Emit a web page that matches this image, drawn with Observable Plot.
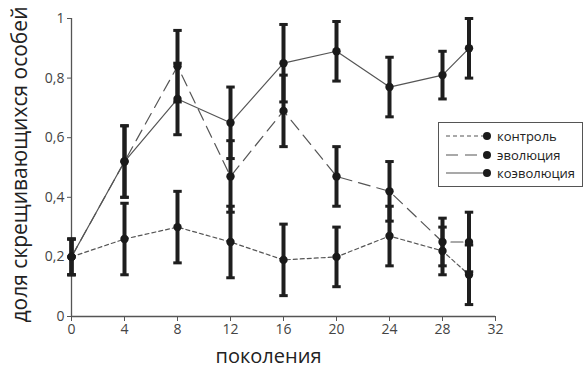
<!DOCTYPE html>
<html><head><meta charset="utf-8">
<script src="https://cdn.jsdelivr.net/npm/d3@7"></script>
<script src="https://cdn.jsdelivr.net/npm/@observablehq/plot@0.6"></script>
<style>
  body { margin:0; background:#fff; }
  #wrap { position:relative; width:584px; height:367px; font-family:"Open Sans", sans-serif; }
  #legend { position:absolute; left:438px; top:122px; width:145px; height:65px; border:1px solid #555; box-sizing:border-box; background:#fff; }
  #legend .row { position:absolute; left:6px; height:18px; display:flex; align-items:center; font-size:13px; color:#222; white-space:nowrap; }
  #legend svg { margin-right:4px; }
</style>
</head><body>
<div id="wrap"><div id="chart"></div><div id="legend"></div></div>
<script>
const generations = [0, 4, 8, 12, 16, 20, 24, 28, 30];
const control        = [0.20, 0.26, 0.30, 0.25, 0.19, 0.20, 0.27, 0.22, 0.14];
const controlErr     = [0.06, 0.12, 0.12, 0.12, 0.12, 0.10, 0.10, 0.08, 0.10];
const evolution      = [0.20, 0.52, 0.84, 0.47, 0.69, 0.47, 0.42, 0.25, 0.25];
const evolutionErr   = [0.06, 0.12, 0.12, 0.12, 0.12, 0.10, 0.10, 0.08, 0.10];
const coevolution    = [0.20, 0.52, 0.73, 0.65, 0.85, 0.89, 0.77, 0.81, 0.90];
const coevolutionErr = [0.06, 0.12, 0.12, 0.12, 0.13, 0.10, 0.10, 0.08, 0.10];
const seriesNames = ["контроль", "эволюция", "коэволюция"];
const xTicks = [0, 4, 8, 12, 16, 20, 24, 28, 32];
const yTicks = [0, 0.2, 0.4, 0.6, 0.8, 1];
const xLabel = "поколения";
const yLabel = "доля скрещивающихся особей";

const dashes = {"контроль": "4,3", "эволюция": "12,7", "коэволюция": null};
const valuesBy = [control, evolution, coevolution];
const errsBy = [controlErr, evolutionErr, coevolutionErr];
const rows = [];
seriesNames.forEach((s, si) => generations.forEach((g, i) =>
  rows.push({series: s, x: g, y: valuesBy[si][i], lo: valuesBy[si][i] - errsBy[si][i], hi: valuesBy[si][i] + errsBy[si][i]})));

const fmt = d => (d === 0 || d === 1) ? String(d) : d.toFixed(1).replace(".", ",");
const lineColor = "#555";
const barColor = "#1e1e1e";
const capW = 0.32;

const marks = [
  Plot.ruleX([0], {stroke: "#555", strokeWidth: 1.3}),
  Plot.ruleY([0], {stroke: "#555", strokeWidth: 1.3}),
  Plot.axisX({ticks: xTicks, tickSize: 5, tickPadding: 3, fontSize: 14, stroke: "#555", color: "#444", label: null}),
  Plot.axisY({ticks: yTicks, tickSize: 4, tickPadding: 3, fontSize: 14, tickFormat: fmt, stroke: "#555", color: "#444", label: null}),
  ...seriesNames.map(s => Plot.line(rows.filter(r => r.series === s), {x: "x", y: "y", stroke: lineColor, strokeWidth: 1.2, strokeDasharray: dashes[s]})),
  Plot.ruleX(rows, {x: "x", y1: "lo", y2: "hi", stroke: barColor, strokeWidth: 4}),
  Plot.link(rows, {x1: d => d.x - capW, x2: d => d.x + capW, y1: "hi", y2: "hi", stroke: barColor, strokeWidth: 3}),
  Plot.link(rows, {x1: d => d.x - capW, x2: d => d.x + capW, y1: "lo", y2: "lo", stroke: barColor, strokeWidth: 3}),
  Plot.dot(rows, {x: "x", y: "y", r: 4.2, fill: "#1a1a1a", stroke: "none"}),
  Plot.text([xLabel], {frameAnchor: "bottom", dx: -15, dy: 46, fontSize: 20, fill: "#222", lineAnchor: "bottom"}),
  Plot.text([yLabel], {frameAnchor: "left", textAnchor: "middle", lineAnchor: "bottom", dx: -45, dy: -3, rotate: -90, fontSize: 21, fill: "#222"})
];

const chart = Plot.plot({
  width: 584, height: 367,
  marginLeft: 71, marginRight: 89, marginTop: 18, marginBottom: 51,
  x: {domain: [0, 32]},
  y: {domain: [0, 1]},
  style: {fontFamily: "'Open Sans', sans-serif", background: "#fff"},
  marks
});
document.getElementById("chart").appendChild(chart);

const leg = document.getElementById("legend");
seriesNames.forEach((s, i) => {
  const row = document.createElement("div");
  row.className = "row";
  row.style.top = (4 + i * 18.5) + "px";
  const svg = d3.create("svg").attr("width", 48).attr("height", 12);
  svg.append("line").attr("x1", 1).attr("x2", 42).attr("y1", 6).attr("y2", 6)
    .attr("stroke", lineColor).attr("stroke-width", 1.2).attr("stroke-dasharray", dashes[s]);
  svg.append("circle").attr("cx", 42).attr("cy", 6).attr("r", 4).attr("fill", "#1a1a1a");
  row.appendChild(svg.node());
  const t = document.createElement("span");
  t.textContent = s;
  row.appendChild(t);
  leg.appendChild(row);
});
</script>
</body></html>
